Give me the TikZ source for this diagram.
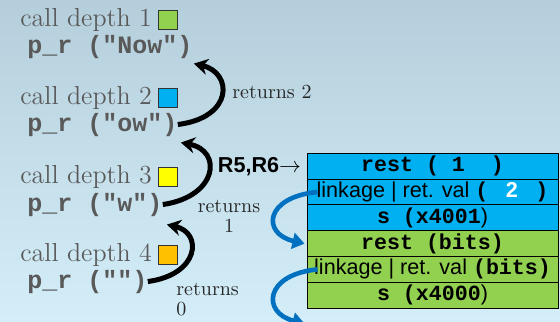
\documentclass[tikz,border=0pt]{standalone}
\usepackage{fontspec}
\usepackage{xcolor}
\usepackage{tikz}
\usetikzlibrary{arrows.meta, positioning}
\newfontfamily\stkmono{Liberation Mono}
\newfontfamily\stksans{Liberation Sans}
\definecolor{frameblue}{HTML}{00B0F0}
\definecolor{framegreen}{HTML}{92D050}
\definecolor{depthyellow}{HTML}{FFFF00}
\definecolor{depthorange}{HTML}{FFC000}
\definecolor{linkblue}{HTML}{0070C0}
\definecolor{labelgray}{HTML}{595959}
\definecolor{bgtop}{HTML}{B4CEDB}
\definecolor{bgbottom}{HTML}{D4EEF9}
\tikzstyle{depth} = [anchor=base west, inner sep=0pt, text=labelgray, font=\fontsize{13}{15}\selectfont]
\tikzstyle{call} = [anchor=base west, inner sep=0pt, text=labelgray, font=\stkmono\bfseries\fontsize{12.5}{14}\selectfont]
\tikzstyle{marker} = [rectangle, draw=black!80, line width=0.5pt, minimum size=9.5pt, inner sep=0pt]
\tikzstyle{ret} = [inner sep=0pt, font=\fontsize{10}{10}\selectfont, text=black!85]
\tikzstyle{slot} = [rectangle, draw=black, line width=0.5pt, minimum width=125.5pt, minimum height=12.9pt, inner sep=0pt, font=\stkmono\bfseries\fontsize{10.8}{12}\selectfont]
\tikzstyle{back} = [line width=2.5pt, -{Stealth[length=7pt,width=8pt]}]
\tikzstyle{link} = [line width=2.3pt, draw=linkblue, -{Triangle[length=6pt,width=8pt]}]

\begin{document}
\begin{tikzpicture}[x=0.5pt, y=-0.5pt, node distance=12.9pt]
			
			\shade [top color=bgtop, bottom color=bgbottom] (0,0) rectangle (560,321);
			\useasboundingbox (0,0) rectangle (560,321);
			
			% call depths
			\node (cd1) [depth] at (20,26) {call depth 1};
			\node (sq1) [marker, fill=framegreen, right=3pt of cd1] {};
			\node (pr1) [call] at (27,53) {p\_r ("Now")};
			
			\node (cd2) [depth] at (20,104) {call depth 2};
			\node (sq2) [marker, fill=frameblue, right=3pt of cd2] {};
			\node (pr2) [call] at (27,131) {p\_r ("ow")};
			
			\node (cd3) [depth] at (20,183) {call depth 3};
			\node (sq3) [marker, fill=depthyellow, right=3pt of cd3] {};
			\node (pr3) [call] at (27,211) {p\_r ("w")};
			
			\node (cd4) [depth] at (20,261) {call depth 4};
			\node (sq4) [marker, fill=depthorange, right=3pt of cd4] {};
			\node (pr4) [call] at (27,288) {p\_r ("")};
			
			% return values
			\node (ret2) [ret, anchor=base west] at (232,98) {returns 2};
			\node (ret1) [ret, anchor=north, align=center] at (229,200) {returns\\1};
			\node (ret0) [ret, anchor=north west, align=left] at (176,283) {returns\\0};
			
			\draw [back] (pr2.east) .. controls +(56,-7) and +(39,9) .. ([shift={(1,5)}]pr1.south east);
			\draw [back] (pr3.east) .. controls +(55,-8) and +(42,8) .. ([shift={(3,6)}]pr2.south east);
			\draw [back] (pr4.east) .. controls +(52,-7) and +(36,8) .. ([shift={(4,8)}]pr3.south east);
			
			% stack frames
			\node (row1) [slot, fill=frameblue] at (432.5,166.2) {rest~(~1~~)};
			\node (row2) [slot, fill=frameblue, below of=row1] {{\stksans\mdseries linkage | ret. val }(\makebox[23.5pt]{\color{white}\stksans 2})};
			\node (row3) [slot, fill=frameblue, below of=row2] {s~(x4001{\stksans\mdseries )}};
			\node (row4) [slot, fill=framegreen, below of=row3] {rest~(bits)};
			\node (row5) [slot, fill=framegreen, below of=row4] {{\stksans\mdseries linkage | ret. val }(bits)};
			\node (row6) [slot, fill=framegreen, below of=row5] {s~(x4000{\stksans\mdseries )}};
			
			\node (regs) [left=2.5pt of row1, inner sep=0pt, font=\stksans\bfseries\fontsize{10.8}{12}\selectfont] {R5,R6$\rightarrow$};
			
			\draw [link] ([xshift=5.5pt]row2.west) .. controls +(-53,5) and +(-43,-10) .. ([xshift=-1pt]row4.west);
			\draw [link] ([xshift=5.5pt]row5.west) .. controls +(-53,5) and +(-43,-11) .. ([shift={(-2,15)}]row6.south west);
			
\end{tikzpicture}
\end{document}
